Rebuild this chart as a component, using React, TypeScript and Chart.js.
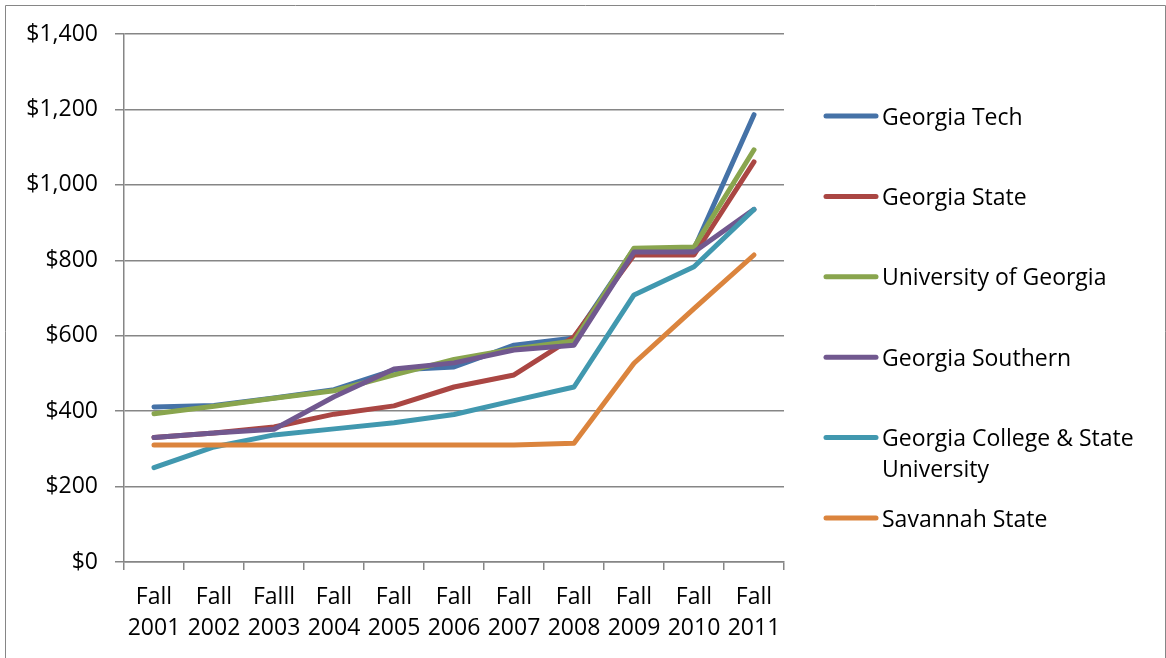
import React, { useEffect, useRef } from "react";
import { Chart, registerables } from "chart.js";

Chart.register(...registerables);

const categories: string[][] = [
  ["Fall", "2001"], ["Fall", "2002"], ["Falll", "2003"], ["Fall", "2004"],
  ["Fall", "2005"], ["Fall", "2006"], ["Fall", "2007"], ["Fall", "2008"],
  ["Fall", "2009"], ["Fall", "2010"], ["Fall", "2011"],
];

const seriesNames = [
  "Georgia Tech",
  "Georgia State",
  "University of Georgia",
  "Georgia Southern",
  "Georgia College & State University",
  "Savannah State",
];

const georgiaTech = [411, 415, 435, 457, 509, 517, 575, 594, 830, 830, 1186];
const georgiaState = [330, 342, 358, 392, 414, 464, 496, 597, 814, 814, 1061];
const universityOfGeorgia = [393, 413, 434, 454, 496, 537, 565, 586, 832, 835, 1093];
const georgiaSouthern = [330, 342, 352, 438, 512, 528, 562, 575, 822, 822, 935];
const georgiaCollege = [250, 305, 337, 353, 369, 391, 428, 464, 708, 783, 935];
const savannahState = [310, 310, 310, 310, 310, 310, 310, 315, 527, 672, 814];

const seriesValues = [
  georgiaTech,
  georgiaState,
  universityOfGeorgia,
  georgiaSouthern,
  georgiaCollege,
  savannahState,
];

const seriesColors = ["#4572A7", "#AA4643", "#89A54E", "#71588F", "#4198AF", "#DB843D"];

const yMin = 0;
const yMax = 1400;
const yStep = 200;

const FONT = "'Open Sans', sans-serif";
const FONT_SIZE = 23;

const frameAndLegend = {
  id: "frameAndLegend",
  afterDraw(chart: any) {
    const ctx = chart.ctx;
    ctx.save();
    // outer frame
    ctx.strokeStyle = "#868686";
    ctx.lineWidth = 1;
    ctx.beginPath();
    ctx.moveTo(5.5, chart.height);
    ctx.lineTo(5.5, 5.5);
    ctx.lineTo(chart.width - 0.5, 5.5);
    ctx.lineTo(chart.width - 0.5, chart.height);
    ctx.stroke();

    // legend
    const markerX0 = 824;
    const markerX1 = 878;
    const textX = 882;
    const maxTextW = 268;
    const firstY = 116;
    const step = 80.4;
    const lineH = 31;
    ctx.font = `${FONT_SIZE}px ${FONT}`;
    ctx.textBaseline = "middle";
    ctx.textAlign = "left";
    chart.data.datasets.forEach((ds: any, i: number) => {
      const y = firstY + i * step;
      ctx.strokeStyle = ds.borderColor;
      ctx.lineWidth = 5;
      ctx.lineCap = "round";
      ctx.beginPath();
      ctx.moveTo(markerX0 + 2, y);
      ctx.lineTo(markerX1 - 2, y);
      ctx.stroke();
      // wrap text
      const words = String(ds.label).split(" ");
      const lines: string[] = [];
      let cur = "";
      for (const w of words) {
        const test = cur ? cur + " " + w : w;
        if (ctx.measureText(test).width > maxTextW && cur) {
          lines.push(cur);
          cur = w;
        } else {
          cur = test;
        }
      }
      if (cur) lines.push(cur);
      ctx.fillStyle = "#000000";
      lines.forEach((ln, k) => ctx.fillText(ln, textX, y + 2 + k * lineH));
    });
    ctx.restore();
  },
};

export default function App() {
  const canvasRef = useRef<HTMLCanvasElement | null>(null);

  useEffect(() => {
    if (!canvasRef.current) return;
    const chart = new Chart(canvasRef.current, {
      type: "line",
      data: {
        labels: categories,
        datasets: seriesNames.map((name, i) => ({
          label: name,
          data: seriesValues[i],
          borderColor: seriesColors[i],
          backgroundColor: seriesColors[i],
          borderWidth: 5,
          borderCapStyle: "round",
          borderJoinStyle: "round",
          pointRadius: 0,
          pointHoverRadius: 0,
          tension: 0,
          fill: false,
          order: seriesNames.length - i,
        })),
      },
      options: {
        responsive: false,
        animation: false,
        layout: { padding: { left: 0, top: 34, right: 382, bottom: 0 } },
        plugins: {
          legend: { display: false },
          tooltip: { enabled: false },
        },
        scales: {
          x: {
            type: "category",
            offset: true,
            grid: {
              display: true,
              offset: true,
              drawOnChartArea: false,
              drawTicks: true,
              tickLength: 8,
              color: "#868686",
              lineWidth: 1.5,
            },
            border: { display: true, color: "#868686", width: 1.5 },
            ticks: {
              color: "#000000",
              font: { family: FONT, size: FONT_SIZE, lineHeight: 31 / FONT_SIZE },
              padding: 12,
              maxRotation: 0,
              minRotation: 0,
              autoSkip: false,
            },
            afterFit(scale: any) {
              scale.height = 96;
            },
          },
          y: {
            min: yMin,
            max: yMax,
            grid: {
              color: "#868686",
              lineWidth: 1.5,
              tickLength: 9,
              drawTicks: true,
            },
            border: { display: true, color: "#868686", width: 1.5 },
            ticks: {
              stepSize: yStep,
              color: "#000000",
              font: { family: FONT, size: FONT_SIZE },
              padding: 17,
              callback: (v: any) => "$" + Number(v).toLocaleString("en-US"),
            },
            afterFit(scale: any) {
              scale.width = 124;
            },
          },
        },
      },
      plugins: [frameAndLegend],
    } as any);
    return () => chart.destroy();
  }, []);

  return (
    <div style={{ position: "absolute", left: 0, top: 0, width: 1166, height: 658, background: "#ffffff" }}>
      <canvas ref={canvasRef} width={1166} height={658} style={{ display: "block" }} />
    </div>
  );
}
